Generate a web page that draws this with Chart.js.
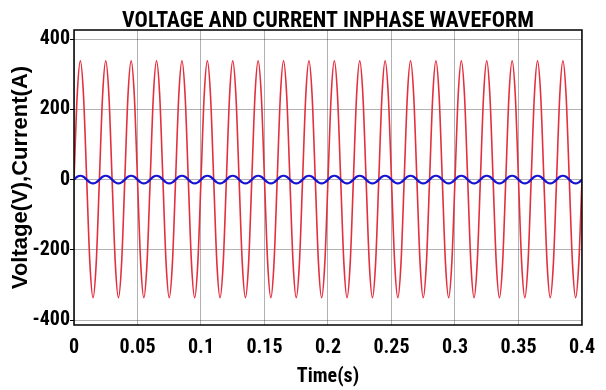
<!DOCTYPE html>
<html>
<head>
<meta charset="utf-8">
<script src="https://cdn.jsdelivr.net/npm/chart.js@4/dist/chart.umd.min.js"></script>
<style>
  html, body { margin: 0; padding: 0; background: #fff; }
  #wrap { width: 606px; height: 390px; }
</style>
</head>
<body>
<div id="wrap"><canvas id="wave"></canvas></div>
<script>
// time samples (s), 8 per 50 Hz cycle
const time = [
  0,0.0025,0.005,0.0075,0.01,0.0125,0.015,0.0175,
  0.02,0.0225,0.025,0.0275,0.03,0.0325,0.035,0.0375,
  0.04,0.0425,0.045,0.0475,0.05,0.0525,0.055,0.0575,
  0.06,0.0625,0.065,0.0675,0.07,0.0725,0.075,0.0775,
  0.08,0.0825,0.085,0.0875,0.09,0.0925,0.095,0.0975,
  0.1,0.1025,0.105,0.1075,0.11,0.1125,0.115,0.1175,
  0.12,0.1225,0.125,0.1275,0.13,0.1325,0.135,0.1375,
  0.14,0.1425,0.145,0.1475,0.15,0.1525,0.155,0.1575,
  0.16,0.1625,0.165,0.1675,0.17,0.1725,0.175,0.1775,
  0.18,0.1825,0.185,0.1875,0.19,0.1925,0.195,0.1975,
  0.2,0.2025,0.205,0.2075,0.21,0.2125,0.215,0.2175,
  0.22,0.2225,0.225,0.2275,0.23,0.2325,0.235,0.2375,
  0.24,0.2425,0.245,0.2475,0.25,0.2525,0.255,0.2575,
  0.26,0.2625,0.265,0.2675,0.27,0.2725,0.275,0.2775,
  0.28,0.2825,0.285,0.2875,0.29,0.2925,0.295,0.2975,
  0.3,0.3025,0.305,0.3075,0.31,0.3125,0.315,0.3175,
  0.32,0.3225,0.325,0.3275,0.33,0.3325,0.335,0.3375,
  0.34,0.3425,0.345,0.3475,0.35,0.3525,0.355,0.3575,
  0.36,0.3625,0.365,0.3675,0.37,0.3725,0.375,0.3775,
  0.38,0.3825,0.385,0.3875,0.39,0.3925,0.395,0.3975,
  0.4
];

// voltage (V)
const voltage = [
  0,239,338,239,0,-237,-336,-237,
  0,239,338,239,0,-237,-336,-237,
  0,239,338,239,0,-237,-336,-237,
  0,239,338,239,0,-237,-336,-237,
  0,239,338,239,0,-237,-336,-237,
  0,239,338,239,0,-237,-336,-237,
  0,239,338,239,0,-237,-336,-237,
  0,239,338,239,0,-237,-336,-237,
  0,239,338,239,0,-237,-336,-237,
  0,239,338,239,0,-237,-336,-237,
  0,239,338,239,0,-237,-336,-237,
  0,239,338,239,0,-237,-336,-237,
  0,239,338,239,0,-237,-336,-237,
  0,239,338,239,0,-237,-336,-237,
  0,239,338,239,0,-237,-336,-237,
  0,239,338,239,0,-237,-336,-237,
  0,239,338,239,0,-237,-336,-237,
  0,239,338,239,0,-237,-336,-237,
  0,239,338,239,0,-237,-336,-237,
  0,239,338,239,0,-237,-336,-237,
  0
];

// current (A)
const current = [
  0,8,11,8,0,-8,-11,-8,
  0,8,11,8,0,-8,-11,-8,
  0,8,11,8,0,-8,-11,-8,
  0,8,11,8,0,-8,-11,-8,
  0,8,11,8,0,-8,-11,-8,
  0,8,11,8,0,-8,-11,-8,
  0,8,11,8,0,-8,-11,-8,
  0,8,11,8,0,-8,-11,-8,
  0,8,11,8,0,-8,-11,-8,
  0,8,11,8,0,-8,-11,-8,
  0,8,11,8,0,-8,-11,-8,
  0,8,11,8,0,-8,-11,-8,
  0,8,11,8,0,-8,-11,-8,
  0,8,11,8,0,-8,-11,-8,
  0,8,11,8,0,-8,-11,-8,
  0,8,11,8,0,-8,-11,-8,
  0,8,11,8,0,-8,-11,-8,
  0,8,11,8,0,-8,-11,-8,
  0,8,11,8,0,-8,-11,-8,
  0,8,11,8,0,-8,-11,-8,
  0
];

const xTicks = [0, 0.05, 0.1, 0.15, 0.2, 0.25, 0.3, 0.35, 0.4];
const xTickLabels = ['0', '0.05', '0.1', '0.15', '0.2', '0.25', '0.3', '0.35', '0.4'];
const yTicks = [-400, -200, 0, 200, 400];

const FONT = "'Roboto Condensed', 'Liberation Sans', Arial, sans-serif";
const WIDE = "'Liberation Sans', Arial, sans-serif";

// black box round the plot area
const boxPlugin = {
  id: 'box',
  afterDatasetsDraw(chart) {
    const a = chart.chartArea;
    const ctx = chart.ctx;
    ctx.save();
    ctx.strokeStyle = '#000';
    ctx.lineWidth = 1.5;
    ctx.strokeRect(a.left, a.top, a.right - a.left, a.bottom - a.top);
    ctx.restore();
  }
};

function pts(ys) {
  return time.map(function (t, i) { return { x: t, y: ys[i] }; });
}

var ctx = document.getElementById('wave').getContext('2d');
var chart = new Chart(ctx, {
  type: 'line',
  data: {
    datasets: [
      {
        label: 'Voltage',
        data: pts(voltage),
        borderColor: '#e3303f',
        borderWidth: 1.6,
        pointRadius: 0,
        cubicInterpolationMode: 'monotone',
        order: 2
      },
      {
        label: 'Current',
        data: pts(current),
        borderColor: '#1414d2',
        borderWidth: 2.2,
        pointRadius: 0,
        cubicInterpolationMode: 'monotone',
        order: 1
      }
    ]
  },
  options: {
    responsive: true,
    maintainAspectRatio: false,
    animation: false,
    layout: { padding: { left: 0, right: 23, top: 0, bottom: 0 } },
    plugins: {
      legend: { display: false },
      tooltip: { enabled: false },
      title: {
        display: true,
        text: 'VOLTAGE AND CURRENT INPHASE WAVEFORM',
        fullSize: false,
        color: '#000',
        font: { family: FONT, size: 22, weight: 'bold', lineHeight: 1 },
        padding: { top: 10, bottom: -2 }
      }
    },
    scales: {
      x: {
        type: 'linear',
        min: 0,
        max: 0.4,
        afterBuildTicks: function (scale) {
          scale.ticks = xTicks.map(function (v) { return { value: v }; });
        },
        afterFit: function (scale) { scale.height = 65; },
        grid: { color: 'rgba(0,0,0,0.3)', lineWidth: 1, drawTicks: false },
        border: { display: false },
        ticks: {
          color: '#000',
          padding: 11,
          maxRotation: 0,
          font: { family: FONT, size: 20, weight: 'bold' },
          callback: function (v, i) { return xTickLabels[i]; }
        },
        title: {
          display: true,
          text: 'Time(s)',
          color: '#000',
          font: { family: FONT, size: 20, weight: 'bold' },
          padding: { top: 0, bottom: 1 }
        }
      },
      y: {
        min: -414,
        max: 426,
        afterBuildTicks: function (scale) {
          scale.ticks = yTicks.map(function (v) { return { value: v }; });
        },
        afterFit: function (scale) { scale.width = 74; },
        grid: { color: 'rgba(0,0,0,0.3)', lineWidth: 1, drawTicks: true, tickLength: 4, tickColor: '#000' },
        border: { display: false },
        ticks: {
          color: '#000',
          padding: 0,
          font: { family: FONT, size: 20, weight: 'bold' },
          callback: function (v) { return String(v); }
        },
        title: {
          display: true,
          text: 'Voltage(V),Current(A)',
          color: '#000',
          font: { family: WIDE, size: 22, weight: 'bold' },
          padding: { top: 8, bottom: 0 }
        }
      }
    }
  },
  plugins: [boxPlugin]
});
</script>
</body>
</html>
